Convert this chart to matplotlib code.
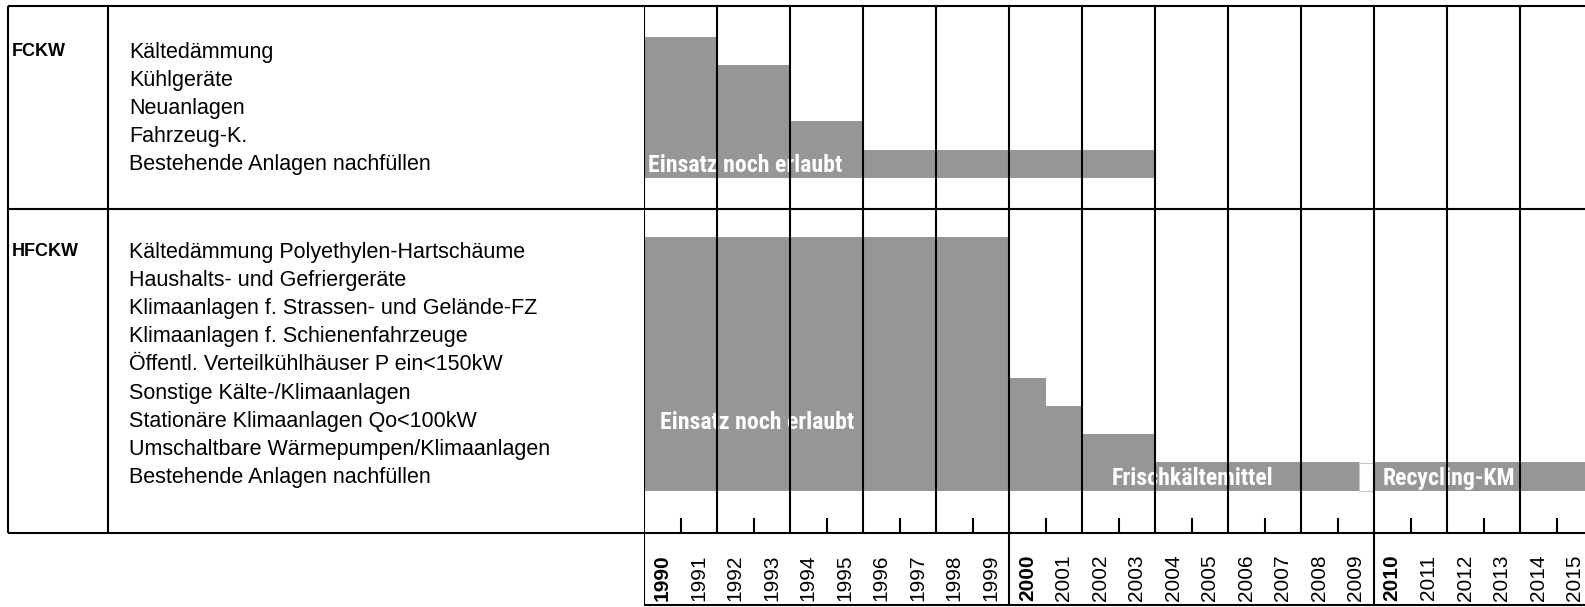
import matplotlib
matplotlib.use('Agg')
import matplotlib.pyplot as plt
from matplotlib import font_manager
from matplotlib.font_manager import FontProperties

# ---------------- data ----------------
start_year = 1990
years = list(range(1990, 2016))
bold_years = [1990, 2000, 2010]

fckw_label = "FCKW"
fckw_items = ["Kältedämmung", "Kühlgeräte", "Neuanlagen", "Fahrzeug-K.",
              "Bestehende Anlagen nachfüllen"]
fckw_end = [1992, 1994, 1994, 1996, 2004]

hfckw_label = "HFCKW"
hfckw_items = ["Kältedämmung Polyethylen-Hartschäume",
               "Haushalts- und Gefriergeräte",
               "Klimaanlagen f. Strassen- und Gelände-FZ",
               "Klimaanlagen f. Schienenfahrzeuge",
               "Öffentl. Verteilkühlhäuser P ein<150kW",
               "Sonstige Kälte-/Klimaanlagen",
               "Stationäre Klimaanlagen Qo<100kW",
               "Umschaltbare Wärmepumpen/Klimaanlagen",
               "Bestehende Anlagen nachfüllen"]
hfckw_end = [2000, 2000, 2000, 2000, 2000, 2001, 2002, 2004, 2009.6]
recycling_start = 2010
recycling_end = 2016

# bar annotations: (section, row, x-year, text)
bar_notes = [("F", 4, 1990.12, "Einsatz noch erlaubt"),
             ("H", 6, 1990.45, "Einsatz noch erlaubt"),
             ("H", 8, 2002.82, "Frischkältemittel"),
             ("H", 8, 2010.25, "Recycling-KM")]

# ---------------- layout ----------------
W, H, DPI = 1585, 607, 100
X_LEFT, X_COL, X_BARS = 8, 108, 644
YEAR_PX = 36.5
TOP, SEP, BOT, BOX_BOT = 6, 209, 533, 605
TICK_TOP = 518
ROW_H = 28.2
F_Y0, H_Y0 = 37, 237
GRAY = '#969696'
LW = 1.5
NOTE_TARGET_W = 194  # px width of "Einsatz noch erlaubt"

base = ['Liberation Sans', 'DejaVu Sans']
plt.rcParams['font.family'] = base


def find_condensed():
    cands = [('Liberation Sans Narrow', 'normal'), ('Arial Narrow', 'normal'),
             ('Roboto Condensed', 'normal'), ('Open Sans Condensed', 'normal'),
             ('DejaVu Sans', 'condensed'), ('Open Sans', 'condensed'),
             ('Noto Sans', 'condensed')]
    for fam, stretch in cands:
        try:
            p = font_manager.findfont(FontProperties(family=fam, weight='bold',
                                                     stretch=stretch),
                                      fallback_to_default=False)
        except Exception:
            continue
        if stretch == 'condensed' and 'ondensed' not in p and 'arrow' not in p:
            continue
        return FontProperties(fname=p)
    return FontProperties(family=base, weight='bold')


note_fp = find_condensed()

fig = plt.figure(figsize=(W / DPI, H / DPI), dpi=DPI)
ax_t = fig.add_axes([0, 0, 1, 1])
ax_t.set_xlim(0, W)
ax_t.set_ylim(H, 0)
ax_t.axis('off')

ax = fig.add_axes([X_BARS / W, 0, (W - X_BARS) / W, 1])
ax.set_xlim(start_year, start_year + (W - X_BARS) / YEAR_PX)
ax.set_ylim(H, 0)
ax.axis('off')

# size the note font so its width matches the reference
renderer = fig.canvas.get_renderer()
probe_fp = note_fp.copy()
probe_fp.set_size(20)
probe = fig.text(0, 0, bar_notes[0][3], fontproperties=probe_fp)
pw = probe.get_window_extent(renderer).width
probe.remove()
note_size = min(18.5, 20 * NOTE_TARGET_W / pw)
note_fp.set_size(note_size)


def row_c(y0, i):
    return y0 + ROW_H * (i + 0.5)


# bars
for i, e in enumerate(fckw_end):
    ax.barh(row_c(F_Y0, i), e - start_year, left=start_year, height=ROW_H + 0.6,
            color=GRAY, edgecolor='none', linewidth=0, zorder=1)
for i, e in enumerate(hfckw_end):
    ax.barh(row_c(H_Y0, i), e - start_year, left=start_year, height=ROW_H + 0.6,
            color=GRAY, edgecolor='none', linewidth=0, zorder=1)
last = len(hfckw_end) - 1
ax.barh(row_c(H_Y0, last), recycling_end - recycling_start, left=recycling_start,
        height=ROW_H + 0.6, color=GRAY, edgecolor='none', linewidth=0, zorder=1)
# white gap between fresh and recycled refrigerant
ax.barh(row_c(H_Y0, last), recycling_start - hfckw_end[last], left=hfckw_end[last],
        height=ROW_H, color='white', edgecolor='#c8c8c8', linewidth=0.8, zorder=1.5)

# bar notes
for sec, r, x, txt in bar_notes:
    y0 = F_Y0 if sec == "F" else H_Y0
    ax.text(x, row_c(y0, r) + 2, txt, color='white', fontproperties=note_fp,
            ha='left', va='center', zorder=3)

# table text
ax_t.text(X_LEFT + 4, row_c(F_Y0, 0), fckw_label, fontsize=13, fontweight='bold',
          ha='left', va='center')
ax_t.text(X_LEFT + 4, row_c(H_Y0, 0), hfckw_label, fontsize=13, fontweight='bold',
          ha='left', va='center')
for i, t in enumerate(fckw_items):
    ax_t.text(129, row_c(F_Y0, i) + 1, t, fontsize=15.5, ha='left', va='center')
for i, t in enumerate(hfckw_items):
    ax_t.text(129, row_c(H_Y0, i) + 1, t, fontsize=15.5, ha='left', va='center')

# table lines
for y in (TOP, SEP, BOT):
    ax_t.hlines(y, X_LEFT, W, color='black', lw=LW, zorder=4)
ax_t.hlines(BOX_BOT, X_BARS, W, color='black', lw=LW, zorder=4)
ax_t.vlines([X_LEFT, X_COL], TOP, BOT, color='black', lw=LW, zorder=4)

# year grid
even = [y for y in years if (y - start_year) % 2 == 0]
odd = [y for y in years if (y - start_year) % 2 == 1]
ax.vlines(even, TOP, BOT, color='black', lw=LW, zorder=4)
ax.vlines(bold_years, BOT, BOX_BOT, color='black', lw=LW, zorder=4)
ax.vlines(odd, TICK_TOP, BOT, color='black', lw=LW, zorder=4)

# year labels
for y in years:
    ax.text(y + 0.5, 578, str(y), rotation=90, ha='center', va='center',
            fontsize=15, fontweight='bold' if y in bold_years else 'normal')

fig.savefig('out.png', dpi=DPI)
